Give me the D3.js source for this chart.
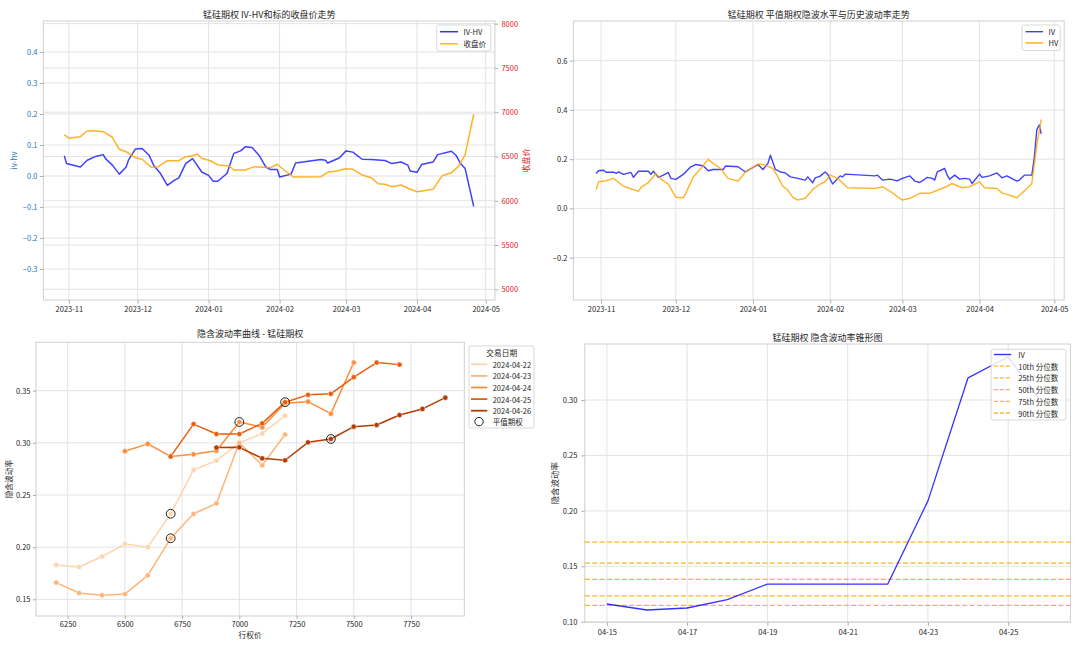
<!DOCTYPE html>
<html><head><meta charset="utf-8">
<script src="https://cdn.jsdelivr.net/npm/d3@7"></script>
<style>body{margin:0;background:#fff}</style>
</head><body>
<svg id="c" width="1080" height="646"></svg>
<script>
// ---------------- DATA ----------------
const ivhvDates = ["2023-10-30","2023-10-31","2023-11-06","2023-11-09","2023-11-13","2023-11-16","2023-11-17","2023-11-20","2023-11-23","2023-11-26","2023-11-27","2023-11-30","2023-12-03","2023-12-06","2023-12-08","2023-12-11","2023-12-14","2023-12-17","2023-12-19","2023-12-22","2023-12-25","2023-12-29","2024-01-01","2024-01-03","2024-01-05","2024-01-09","2024-01-12","2024-01-15","2024-01-17","2024-01-20","2024-01-23","2024-01-26","2024-01-28","2024-01-31","2024-02-01","2024-02-06","2024-02-08","2024-02-19","2024-02-21","2024-02-22","2024-02-27","2024-03-01","2024-03-04","2024-03-08","2024-03-12","2024-03-18","2024-03-21","2024-03-25","2024-03-28","2024-03-29","2024-04-01","2024-04-03","2024-04-08","2024-04-10","2024-04-16","2024-04-18","2024-04-20","2024-04-22","2024-04-25T18:00"];
const ivhvValues = [0.065,0.040,0.029,0.051,0.064,0.069,0.056,0.035,0.006,0.029,0.051,0.087,0.089,0.067,0.035,0.008,-0.030,-0.014,-0.006,0.040,0.056,0.013,0.002,-0.017,-0.017,0.008,0.073,0.081,0.094,0.092,0.067,0.029,0.021,0.021,-0.003,0.006,0.042,0.053,0.051,0.042,0.058,0.081,0.077,0.054,0.053,0.050,0.040,0.045,0.035,0.016,0.012,0.037,0.045,0.069,0.080,0.067,0.040,0.024,-0.098];

const closeDates = ["2023-10-30","2023-11-01","2023-11-06","2023-11-09","2023-11-12","2023-11-16","2023-11-20","2023-11-23","2023-11-26","2023-11-30","2023-12-03","2023-12-07","2023-12-10","2023-12-14","2023-12-19","2023-12-22","2023-12-25","2023-12-27","2023-12-29","2024-01-02","2024-01-05","2024-01-10","2024-01-12","2024-01-17","2024-01-21","2024-01-28","2024-01-31","2024-02-02","2024-02-07","2024-02-19","2024-02-22","2024-02-26","2024-03-01","2024-03-04","2024-03-08","2024-03-12","2024-03-15","2024-03-18","2024-03-21","2024-03-25","2024-03-28","2024-04-01","2024-04-08","2024-04-12","2024-04-16","2024-04-19","2024-04-22","2024-04-25T18:00"];
const closeValues = [6743,6706,6724,6788,6791,6780,6717,6581,6554,6486,6468,6378,6385,6452,6452,6498,6509,6528,6480,6449,6404,6393,6347,6347,6385,6373,6412,6367,6268,6272,6321,6336,6362,6355,6291,6260,6193,6186,6159,6178,6141,6102,6129,6283,6317,6385,6517,6977];

const ivDates = ["2023-10-30","2023-10-31","2023-11-02","2023-11-03","2023-11-06","2023-11-07","2023-11-08","2023-11-10","2023-11-13","2023-11-14","2023-11-16","2023-11-20","2023-11-21","2023-11-22","2023-11-24","2023-11-26","2023-11-28","2023-11-29","2023-12-01","2023-12-04","2023-12-07","2023-12-09","2023-12-12","2023-12-14","2023-12-16","2023-12-20","2023-12-21","2023-12-26","2023-12-29","2024-01-01","2024-01-03","2024-01-05","2024-01-07","2024-01-08","2024-01-10","2024-01-12","2024-01-14","2024-01-16","2024-01-19","2024-01-22","2024-01-23","2024-01-25","2024-01-26","2024-01-28","2024-01-30","2024-01-31","2024-02-02","2024-02-05","2024-02-06","2024-02-07","2024-02-19","2024-02-20","2024-02-22","2024-02-25","2024-02-28","2024-03-01","2024-03-04","2024-03-06","2024-03-08","2024-03-11","2024-03-13","2024-03-14","2024-03-15","2024-03-18","2024-03-19","2024-03-20","2024-03-22","2024-03-24","2024-03-26","2024-03-28","2024-03-29","2024-04-01","2024-04-02","2024-04-05","2024-04-08","2024-04-10","2024-04-12","2024-04-16","2024-04-17","2024-04-19","2024-04-22","2024-04-23","2024-04-24","2024-04-25","2024-04-25T18:00"];
const ivValues = [0.142,0.153,0.155,0.147,0.147,0.142,0.148,0.138,0.146,0.126,0.151,0.151,0.138,0.151,0.126,0.135,0.146,0.122,0.118,0.138,0.169,0.178,0.173,0.153,0.158,0.158,0.172,0.169,0.148,0.166,0.178,0.158,0.183,0.216,0.158,0.148,0.144,0.128,0.122,0.115,0.128,0.104,0.124,0.131,0.148,0.139,0.099,0.132,0.128,0.139,0.132,0.135,0.115,0.119,0.112,0.122,0.132,0.111,0.105,0.126,0.122,0.115,0.148,0.162,0.135,0.118,0.135,0.119,0.122,0.119,0.101,0.139,0.126,0.132,0.144,0.124,0.132,0.111,0.115,0.135,0.135,0.207,0.320,0.339,0.303];

const hvDates = ["2023-10-30","2023-10-31","2023-11-03","2023-11-06","2023-11-10","2023-11-13","2023-11-16","2023-11-17","2023-11-20","2023-11-23","2023-11-25","2023-11-28","2023-12-01","2023-12-04","2023-12-05","2023-12-08","2023-12-11","2023-12-14","2023-12-16","2023-12-19","2023-12-22","2023-12-26","2023-12-29","2024-01-03","2024-01-06","2024-01-09","2024-01-11","2024-01-13","2024-01-15","2024-01-17","2024-01-19","2024-01-22","2024-01-25","2024-01-28","2024-01-30","2024-02-01","2024-02-04","2024-02-08","2024-02-19","2024-02-22","2024-02-26","2024-03-01","2024-03-04","2024-03-08","2024-03-12","2024-03-16","2024-03-18","2024-03-21","2024-03-25","2024-03-28","2024-04-01","2024-04-03","2024-04-08","2024-04-10","2024-04-16","2024-04-19","2024-04-22","2024-04-24","2024-04-25T18:00"];
const hvValues = [0.077,0.108,0.112,0.122,0.090,0.080,0.069,0.085,0.105,0.142,0.119,0.099,0.045,0.043,0.061,0.128,0.162,0.199,0.183,0.162,0.122,0.111,0.148,0.180,0.176,0.162,0.128,0.090,0.074,0.045,0.034,0.041,0.077,0.099,0.108,0.135,0.122,0.084,0.081,0.088,0.063,0.034,0.041,0.061,0.061,0.078,0.085,0.101,0.084,0.088,0.108,0.084,0.081,0.063,0.043,0.071,0.101,0.257,0.361];

const smileDates = ["2024-04-22","2024-04-23","2024-04-24","2024-04-25","2024-04-26"];
const smileStrikes0422 = [6200,6300,6400,6500,6600,6700,6800,6900,7000,7100,7200];
const smileIV0422 = [0.183,0.181,0.191,0.203,0.200,0.232,0.274,0.283,0.300,0.309,0.326];
const smileStrikes0423 = [6200,6300,6400,6500,6600,6700,6800,6900,7000,7100,7200];
const smileIV0423 = [0.166,0.156,0.154,0.155,0.173,0.2085,0.232,0.242,0.300,0.2785,0.308];
const smileStrikes0424 = [6500,6600,6700,6800,6900,7000,7100,7200,7300,7400,7500];
const smileIV0424 = [0.292,0.299,0.287,0.289,0.2925,0.320,0.315,0.338,0.3395,0.328,0.377];
const smileStrikes0425 = [6700,6800,6900,7000,7100,7200,7300,7400,7500,7600,7700];
const smileIV0425 = [0.287,0.318,0.3085,0.3085,0.3187,0.339,0.346,0.347,0.363,0.377,0.375];
const smileStrikes0426 = [6900,7000,7100,7200,7300,7400,7500,7600,7700,7800,7900];
const smileIV0426 = [0.2955,0.2957,0.2852,0.2833,0.3005,0.3037,0.3155,0.3171,0.3267,0.3325,0.3433];
const atmStrikes = [6700,6700,7000,7200,7400];
const atmIV = [0.232,0.2085,0.320,0.339,0.3037];

const coneDates = ["2024-04-15","2024-04-16","2024-04-17","2024-04-18","2024-04-19","2024-04-22","2024-04-23","2024-04-24","2024-04-25","2024-04-25T18:00"];
const coneIV = [0.116,0.1106,0.1124,0.120,0.134,0.134,0.209,0.320,0.339,0.302];
const pctLabels = ["10th 分位数","25th 分位数","50th 分位数","75th 分位数","90th 分位数"];
const pctValues = [0.1148,0.1234,0.1382,0.1529,0.1718];

const monthTicks = ["2023-11","2023-12","2024-01","2024-02","2024-03","2024-04","2024-05"];
const p1LeftTicks = [-0.3,-0.2,-0.1,0,0.1,0.2,0.3,0.4];
const p1RightTicks = [5000,5500,6000,6500,7000,7500,8000];
const p2Ticks = [-0.2,0,0.2,0.4,0.6];
const p3XTicks = [6250,6500,6750,7000,7250,7500,7750];
const p3YTicks = [0.15,0.20,0.25,0.30,0.35];
const coneTicks = ["04-15","04-17","04-19","04-21","04-23","04-25"];
const p4YTicks = [0.10,0.15,0.20,0.25,0.30];

// ---------------- DRAW ----------------
const FONT = '"Noto Sans CJK SC","Noto Sans","DejaVu Sans",sans-serif';
const TXT = "#262626";
const svg = d3.select("#c").attr("font-family", FONT);
const pDay = d3.timeParse("%Y-%m-%d"), pTime = d3.timeParse("%Y-%m-%dT%H:%M"), pMonth = d3.timeParse("%Y-%m");
const pt = s => s.includes("T") ? pTime(s) : pDay(s);
const zip = (xs, ys, fx) => xs.map((v, i) => ({x: fx ? fx(v) : v, y: ys[i]}));

const P1 = {l:43.4, r:494.9, t:21, b:300};
const P2 = {l:573.4, r:1064.2, t:21, b:300};
const P3 = {l:36, r:464.3, t:342.3, b:616};
const P4 = {l:584.8, r:1070.4, t:344, b:622.3};

function hGrid(P, y, ticks){
  svg.append("g").selectAll("line").data(ticks).join("line")
    .attr("x1",P.l).attr("x2",P.r).attr("y1",d=>y(d)).attr("y2",d=>y(d))
    .attr("stroke","#e3e3e3").attr("stroke-width",1);
}
function vGrid(P, x, ticks){
  svg.append("g").selectAll("line").data(ticks).join("line")
    .attr("y1",P.t).attr("y2",P.b).attr("x1",d=>x(d)).attr("x2",d=>x(d))
    .attr("stroke","#e3e3e3").attr("stroke-width",1);
}
function frame(P){
  svg.append("rect").attr("x",P.l).attr("y",P.t).attr("width",P.r-P.l).attr("height",P.b-P.t)
    .attr("fill","none").attr("stroke","#d0d0d0").attr("stroke-width",1);
}
function axis(gen, tx, ty, color){
  const g = svg.append("g").attr("transform",`translate(${tx},${ty})`).call(gen);
  g.attr("font-family",FONT).attr("font-size",7.5);
  g.select(".domain").remove();
  g.selectAll(".tick line").attr("stroke","#9a9a9a").attr("stroke-width",0.8);
  g.selectAll(".tick text").attr("fill",color||TXT);
  return g;
}
function title(txt, x, y){
  svg.append("text").attr("x",x).attr("y",y).attr("text-anchor","middle")
    .attr("font-size",9).attr("fill",TXT).text(txt);
}
function ylabel(txt, x, y, color, size){
  svg.append("text").attr("transform",`translate(${x},${y}) rotate(-90)`).attr("text-anchor","middle")
    .attr("dominant-baseline","central").attr("font-size",size||8).attr("fill",color||TXT).text(txt);
}
function legendBox(x,y,w,h){
  svg.append("rect").attr("x",x).attr("y",y).attr("width",w).attr("height",h).attr("rx",2)
    .attr("fill","#fff").attr("fill-opacity",0.85).attr("stroke","#cfcfcf").attr("stroke-width",0.8);
}
function legendItem(x1,x2,y,color,label,tx,dash,w){
  svg.append("line").attr("x1",x1).attr("x2",x2).attr("y1",y).attr("y2",y)
    .attr("stroke",color).attr("stroke-width",w||1.5).attr("stroke-dasharray",dash||null);
  svg.append("text").attr("x",tx).attr("y",y).attr("dominant-baseline","central")
    .attr("font-size",7.5).attr("fill",TXT).text(label);
}

const timeDomain = [new Date(2023,9,20,21), new Date(2024,4,5,0)];
const monthDates = monthTicks.map(pMonth);

// ===== Panel 1 =====
{
  const x = d3.scaleTime().domain(timeDomain).range([P1.l,P1.r]);
  const yL = d3.scaleLinear().domain([-0.4,0.5]).range([P1.b,P1.t]);
  const yR = d3.scaleLinear().domain([4879,8030]).range([P1.b,P1.t]);
  vGrid(P1, x, monthDates);
  hGrid(P1, yL, p1LeftTicks);
  hGrid(P1, yR, p1RightTicks);
  frame(P1);
  axis(d3.axisBottom(x).tickValues(monthDates).tickFormat(d3.timeFormat("%Y-%m")).tickSize(3.5).tickPadding(3), 0, P1.b);
  axis(d3.axisLeft(yL).tickValues(p1LeftTicks).tickFormat(d3.format(".1f")).tickSize(3.5).tickPadding(2.5), P1.l, 0, "#1f77b4");
  axis(d3.axisRight(yR).tickValues(p1RightTicks).tickFormat(d3.format("d")).tickSize(3.5).tickPadding(3), P1.r, 0, "#d62728");
  const lineL = d3.line().x(d=>x(d.x)).y(d=>yL(d.y));
  const lineR = d3.line().x(d=>x(d.x)).y(d=>yR(d.y));
  svg.append("path").attr("d",lineL(zip(ivhvDates,ivhvValues,pt))).attr("fill","none")
    .attr("stroke","#0000ff").attr("stroke-opacity",0.75).attr("stroke-width",1.5).attr("stroke-linejoin","round");
  svg.append("path").attr("d",lineR(zip(closeDates,closeValues,pt))).attr("fill","none")
    .attr("stroke","#ffa500").attr("stroke-opacity",0.85).attr("stroke-width",1.5).attr("stroke-linejoin","round");
  title("锰硅期权 IV-HV和标的收盘价走势", (P1.l+P1.r)/2, 18.4);
  ylabel("iv-hv", 13.5, (P1.t+P1.b)/2, "#1f77b4");
  ylabel("收盘价", 525, (P1.t+P1.b)/2, "#d62728");
  legendBox(436.7,25,54.2,26);
  legendItem(440,458,31.7,"#3333ff","IV-HV",463.5);
  legendItem(440,458,43.8,"#ffb52e","收盘价",463.5);
}

// ===== Panel 2 =====
{
  const x = d3.scaleTime().domain(timeDomain).range([P2.l,P2.r]);
  const y = d3.scaleLinear().domain([-0.372,0.761]).range([P2.b,P2.t]);
  vGrid(P2, x, monthDates);
  hGrid(P2, y, p2Ticks);
  frame(P2);
  axis(d3.axisBottom(x).tickValues(monthDates).tickFormat(d3.timeFormat("%Y-%m")).tickSize(3.5).tickPadding(3), 0, P2.b);
  axis(d3.axisLeft(y).tickValues(p2Ticks).tickFormat(d3.format(".1f")).tickSize(3.5).tickPadding(2.5), P2.l, 0);
  const line = d3.line().x(d=>x(d.x)).y(d=>y(d.y));
  svg.append("path").attr("d",line(zip(ivDates,ivValues,pt))).attr("fill","none")
    .attr("stroke","#0000ff").attr("stroke-opacity",0.75).attr("stroke-width",1.4).attr("stroke-linejoin","round");
  svg.append("path").attr("d",line(zip(hvDates,hvValues,pt))).attr("fill","none")
    .attr("stroke","#ffa500").attr("stroke-opacity",0.8).attr("stroke-width",1.5).attr("stroke-linejoin","round");
  title("锰硅期权 平值期权隐波水平与历史波动率走势", (P2.l+P2.r)/2, 18.4);
  legendBox(1022,25,38.2,25.5);
  legendItem(1025.6,1043,31.7,"#3333ff","IV",1048.5,null,1.3);
  legendItem(1025.6,1043,42.9,"#ffb52e","HV",1048.5,null,1.6);
}

// ===== Panel 3 =====
{
  const x = d3.scaleLinear().domain([6111.5,7983]).range([P3.l,P3.r]);
  const y = d3.scaleLinear().domain([0.134,0.3964]).range([P3.b,P3.t]);
  vGrid(P3, x, p3XTicks);
  hGrid(P3, y, p3YTicks);
  frame(P3);
  axis(d3.axisBottom(x).tickValues(p3XTicks).tickFormat(d3.format("d")).tickSize(3).tickPadding(2.5), 0, P3.b);
  axis(d3.axisLeft(y).tickValues(p3YTicks).tickFormat(d3.format(".2f")).tickSize(3).tickPadding(2.5), P3.l, 0);
  const colors = ["#fdd5ad","#fdb47a","#fd8c3b","#e95e0d","#b23d03"];
  const series = [
    zip(smileStrikes0422, smileIV0422), zip(smileStrikes0423, smileIV0423), zip(smileStrikes0424, smileIV0424),
    zip(smileStrikes0425, smileIV0425), zip(smileStrikes0426, smileIV0426)];
  const line = d3.line().x(d=>x(d.x)).y(d=>y(d.y));
  series.forEach((s,i)=>{
    svg.append("path").attr("d",line(s)).attr("fill","none").attr("stroke",colors[i])
      .attr("stroke-width",1.5).attr("stroke-linejoin","round");
    svg.append("g").selectAll("circle").data(s).join("circle")
      .attr("cx",d=>x(d.x)).attr("cy",d=>y(d.y)).attr("r",2.6)
      .attr("fill",colors[i]).attr("stroke","#fff").attr("stroke-width",0.5);
  });
  svg.append("g").selectAll("circle").data(zip(atmStrikes, atmIV)).join("circle")
    .attr("cx",d=>x(d.x)).attr("cy",d=>y(d.y)).attr("r",4.4)
    .attr("fill","none").attr("stroke","#222").attr("stroke-width",1);
  title("隐含波动率曲线 - 锰硅期权", (P3.l+P3.r)/2, 337);
  ylabel("隐含波动率", 8.3, (P3.t+P3.b)/2, TXT, 7.7);
  svg.append("text").attr("x",(P3.l+P3.r)/2).attr("y",638).attr("text-anchor","middle")
    .attr("font-size",7.7).attr("fill",TXT).text("行权价");
  legendBox(469,346,65,82);
  svg.append("text").attr("x",501.7).attr("y",352.9).attr("text-anchor","middle").attr("dominant-baseline","central")
    .attr("font-size",7.7).attr("fill",TXT).text("交易日期");
  smileDates.forEach((d,i)=>legendItem(471,487.3,364.3+i*11.6,colors[i],d,492.7,null,1.8));
  svg.append("circle").attr("cx",479).attr("cy",421.6).attr("r",4.2).attr("fill","none").attr("stroke","#222").attr("stroke-width",1);
  svg.append("text").attr("x",492.7).attr("y",421.6).attr("dominant-baseline","central")
    .attr("font-size",7.5).attr("fill",TXT).text("平值期权");
}

// ===== Panel 4 =====
{
  const x = d3.scaleTime().domain([new Date(2024,3,14,10,48), new Date(2024,3,26,13,12)]).range([P4.l,P4.r]);
  const y = d3.scaleLinear().domain([0.0995,0.3505]).range([P4.b,P4.t]);
  const tickDates = coneTicks.map(t=>pDay("2024-"+t));
  vGrid(P4, x, tickDates);
  hGrid(P4, y, p4YTicks);
  frame(P4);
  axis(d3.axisBottom(x).tickValues(tickDates).tickFormat(d3.timeFormat("%m-%d")).tickSize(3.5).tickPadding(4), 0, P4.b);
  axis(d3.axisLeft(y).tickValues(p4YTicks).tickFormat(d3.format(".2f")).tickSize(3.5).tickPadding(4), P4.l, 0);
  pctValues.forEach(v=>{
    svg.append("line").attr("x1",P4.l).attr("x2",P4.r).attr("y1",y(v)).attr("y2",y(v))
      .attr("stroke","#ffa500").attr("stroke-opacity",0.85).attr("stroke-width",1.3).attr("stroke-dasharray","5,2.4");
  });
  const line = d3.line().x(d=>x(d.x)).y(d=>y(d.y));
  svg.append("path").attr("d",line(zip(coneDates,coneIV,pt))).attr("fill","none")
    .attr("stroke","#0000ff").attr("stroke-opacity",0.8).attr("stroke-width",1.3).attr("stroke-linejoin","round");
  title("锰硅期权 隐含波动率锥形图", (P4.l+P4.r)/2, 341);
  ylabel("隐含波动率", 554, (P4.t+P4.b)/2, TXT, 8.5);
  legendBox(991.1,349.3,74.8,70.7);
  legendItem(993.9,1011.1,354.5,"#3333ff","IV",1018.3,null,1.4);
  pctLabels.forEach((l,i)=>legendItem(993.9,1011.1,366.2+i*11.7,"#ffb52e",l,1018.3,"4,2",1.3));
}
</script>
</body></html>
